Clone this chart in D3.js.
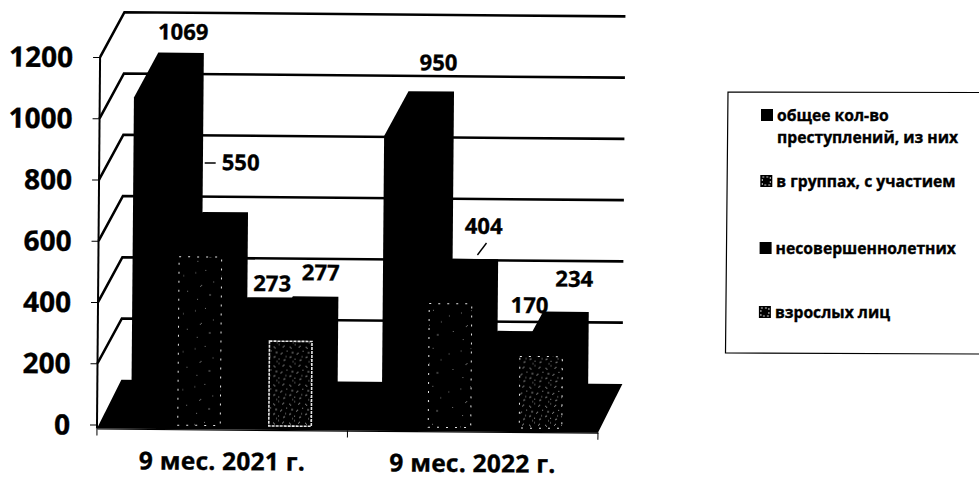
<!DOCTYPE html>
<html><head><meta charset="utf-8">
<script src="https://cdn.jsdelivr.net/npm/d3@7"></script>
<style>html,body{margin:0;padding:0;background:#fff;overflow:hidden}svg{display:block}text{font-family:"Open Sans",sans-serif;font-weight:700;fill:#000;stroke:#000;stroke-width:0.35px}</style>
</head><body><svg id="c" width="979" height="479"></svg>
<script>
const categories = ["9 мес. 2021 г.", "9 мес. 2022 г."];
const seriesNames = ["общее кол-во преступлений, из них", "в группах, с участием", "несовершеннолетних", "взрослых лиц"];
const total = [1069, 950];
const groups = [550, 404];
const minors = [273, 170];
const adults = [277, 234];
const yTicks = [0, 200, 400, 600, 800, 1000, 1200];

const seriesValues = [total, groups, minors, adults];
const svg = d3.select("#c");
const defs = svg.append("defs");
const pat = (id, d, w, h, op) => defs.append("pattern").attr("id", id).attr("patternUnits", "userSpaceOnUse")
  .attr("width", w).attr("height", h).append("path").attr("d", d).attr("fill", "none").attr("stroke", "#fff")
  .attr("stroke-width", 0.8).attr("stroke-opacity", op);
pat("sp1", "M4 6h1M14 3l1 1M22 15h1M9 20l2 -2M30 9h1M34 24l1 1M18 28h2M6 33l1 -1", 38, 38, 0.6);
pat("sp2", "M1 3l2 2M6 1h1M10 4l2 -2M14 7l1 1M3 9h2M8 11l2 -2M13 13h1M1 14l2 -1M6 15l1 1M11 17l2 -1M4 18h1", 16, 19, 0.75);

const y = d3.scaleLinear().domain([0, 1200]).range([424.5, 57]);
const x0 = d3.scaleBand().domain(categories).range([97, 598]).paddingInner(0.273).paddingOuter(0.1365);
const x1 = d3.scaleBand().domain(d3.range(seriesNames.length)).range([0, x0.bandwidth()]);
const dx = 24, dy = -45;
const left = x0.range()[0], right = x0.range()[1];

const plot = svg.append("g").attr("transform", `rotate(0.48 ${left} ${y(0)})`);

// back wall lines and side wall diagonals
const grid = yTicks.slice(1);
plot.selectAll(".gl").data(grid).join("path").attr("class", "gl")
  .attr("fill", "none").attr("stroke", "#000").attr("stroke-width", 2.6)
  .attr("d", v => `M${left} ${y(v)}L${left + dx} ${y(v) + dy}L${right + dx} ${y(v) + dy}`);
plot.append("line").attr("x1", left).attr("x2", left).attr("y1", y(1200)).attr("y2", y(0) + 4)
  .attr("stroke", "#000").attr("stroke-width", 2);

// floor
plot.append("path").attr("fill", "#000")
  .attr("d", `M${left} ${y(0) + 4}L${left + dx} ${y(0) + dy}L${right + dx} ${y(0) + dy}L${right} ${y(0) + 4}Z`);

// axes
const yAxis = d3.axisLeft(y).tickValues(yTicks).tickSize(7).tickPadding(20).tickFormat(d3.format("d"));
const yG = plot.append("g").attr("transform", `translate(${left},0)`).call(yAxis);
yG.select(".domain").remove();
yG.selectAll("line").attr("stroke", "#000").attr("stroke-width", 1);
yG.selectAll("text").style("font-size", "28px").attr("dy", "0.35em");

const xAxis = d3.axisBottom(x0).tickSize(0).tickPadding(23);
const xG = plot.append("g").attr("transform", `translate(0,${y(0) + 4})`).call(xAxis);
xG.select(".domain").attr("stroke", "#000").attr("stroke-width", 1.2);
xG.selectAll("text").style("font-size", "24.5px").style("letter-spacing", "0.25px");
const boundaries = d3.range(categories.length + 1).map(i => left + i * x0.step());
xG.selectAll(".bt").data(boundaries).join("line").attr("class", "bt")
  .attr("x1", d => d).attr("x2", d => d).attr("y1", 0).attr("y2", 7).attr("stroke", "#000");

// bars
const barData = [];
categories.forEach((c, ci) => seriesValues.forEach((s, si) => barData.push({ c, ci, si, v: s[ci] })));
const bx = d => x0(d.c) + x1(d.si), bw = x1.bandwidth();
const bars = plot.selectAll(".bar").data(barData).join("g").attr("class", "bar");
bars.append("path").attr("fill", "#000").attr("d", d => {
  const a = bx(d), b = a + bw, t = y(d.v), z = y(0);
  return `M${a} ${z}L${a} ${t}L${a + dx} ${t + dy}L${b + dx} ${t + dy}L${b + dx} ${z + dy}L${b} ${z}Z`;
});
// textured fronts of the second and fourth series
plot.selectAll(".tex").data(barData.filter(d => d.si % 2 === 1)).join("rect").attr("class", "tex")
  .attr("x", d => bx(d) + 1).attr("width", bw - 3)
  .attr("y", d => y(d.v)).attr("height", d => y(0) - y(d.v))
  .attr("fill", d => `url(#${d.si === 3 ? "sp2" : "sp1"})`)
  .attr("stroke", "#fff").attr("stroke-width", d => d.si === 3 && d.ci === 0 ? 1.6 : 1)
  .attr("stroke-dasharray", d => d.si === 3 && d.ci === 0 ? "3 1" : "2 7")
  .attr("stroke-opacity", 0.9);

// value labels, placed by hand relative to each bar's top
const labelShift = { "0-0": [14, -19], "0-1": [27, -48], "0-2": [14, -12], "0-3": [17, -22],
                     "1-0": [19, -27], "1-1": [20, -31], "1-2": [21, -24], "1-3": [20, -31] };
const lab = d => labelShift[`${d.ci}-${d.si}`];
plot.selectAll(".vl").data(barData).join("text").attr("class", "vl")
  .attr("text-anchor", "middle").attr("dominant-baseline", "middle").style("font-size", "22px")
  .attr("x", d => bx(d) + bw / 2 + dx / 2 + lab(d)[0])
  .attr("y", d => y(d.v) + dy + lab(d)[1])
  .text(d => d.v);

// leader lines
const anchor = d => [bx(d) + bw / 2 + dx / 2, y(d.v) + dy];
const leaders = [{ d: barData[1], a: [-9, -49], b: [2, -49] }, { d: barData[5], a: [14, -4], b: [23, -16] }];
plot.selectAll(".ld").data(leaders).join("line").attr("class", "ld").attr("stroke", "#000").attr("stroke-width", 1.4)
  .attr("x1", l => anchor(l.d)[0] + l.a[0]).attr("y1", l => anchor(l.d)[1] + l.a[1])
  .attr("x2", l => anchor(l.d)[0] + l.b[0]).attr("y2", l => anchor(l.d)[1] + l.b[1]);

// legend
const legend = svg.append("g");
legend.append("path").attr("fill", "none").attr("stroke", "#000").attr("stroke-width", 1.2)
  .attr("d", "M985 92.5L728 92L725.5 353L985 354");
const rows = [["общее кол-во", "преступлений, из них"], [seriesNames[1]], [seriesNames[2]], [seriesNames[3]]];
const rowPos = [115, 181, 248, 312];
const li = legend.selectAll(".li").data(rows).join("g").attr("class", "li")
  .attr("transform", (d, i) => `translate(${761 - i * 0.7},${rowPos[i]})`);
li.append("rect").attr("x", 0).attr("y", -6).attr("width", 12).attr("height", 12).attr("fill", "#000");
li.filter((d, i) => i % 2 === 1).append("rect").attr("x", 2).attr("y", -4).attr("width", 8).attr("height", 8)
  .attr("fill", "none").attr("stroke", "#fff").attr("stroke-width", 0.8).attr("stroke-dasharray", "2 2");
li.selectAll("text").data(d => d).join("text")
  .attr("x", 16).attr("y", (d, i) => i * 23).attr("dy", "0.35em").style("font-size", "15.7px").text(d => d);
</script></body></html>
